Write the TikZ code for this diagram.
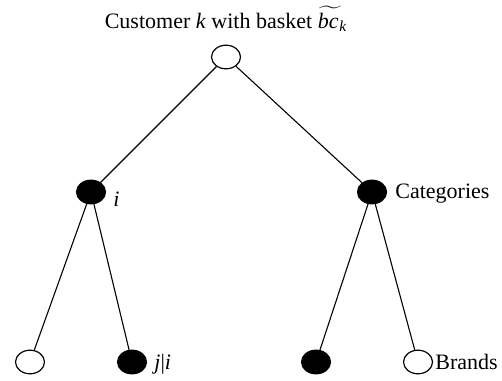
\documentclass[tikz,border=0pt]{standalone}
\usepackage{amsmath}
\usepackage{fontspec}
\setmainfont{Liberation Serif}
\usetikzlibrary{shapes.geometric}

\tikzset{
    open/.style={ellipse,draw,line width=0.6pt,fill=white,inner sep=0pt,
        minimum width=14.5pt,minimum height=11.8pt},
    shut/.style={open,fill=black}
}

\begin{document}
\begin{tikzpicture}[x=0.5pt,y=-0.5pt,font=\fontsize{11}{13}\selectfont]
        \useasboundingbox (0,0) rectangle (502,380);
        % customer, categories, brands
        \node[open] (root) at (226,57) {};
        \node[shut] (ci) at (91,192) {};
        \node[shut] (cr) at (372,192) {};
        \node[open] (bl) at (30,362) {};
        \node[shut] (bji) at (132,362) {};
        \node[shut] (bm) at (316,362) {};
        \node[open] (br) at (418,362) {};
        \foreach \a/\b in {root/ci, root/cr, ci/bl, ci/bji, cr/bm, cr/br}
            \draw[line width=0.55pt] (\a) -- (\b);
        % labels
        \node[anchor=base] (title) at (226,28)
            {Customer \textit{k} with basket $\widetilde{\textit{bc}\,}_{\!\textit{k}}$};
        \node[anchor=base west,inner sep=0pt] (li) at (113,206) {\textit{i}};
        \node[anchor=base west,inner sep=0pt] (lcat) at (395,198) {Categories};
        \node[anchor=base west,inner sep=0pt] (lji) at (154,369) {\textit{j}|\textit{i}};
        \node[anchor=base west,inner sep=0pt] (lbr) at (435,369) {Brands};
    \end{tikzpicture}
\end{document}
